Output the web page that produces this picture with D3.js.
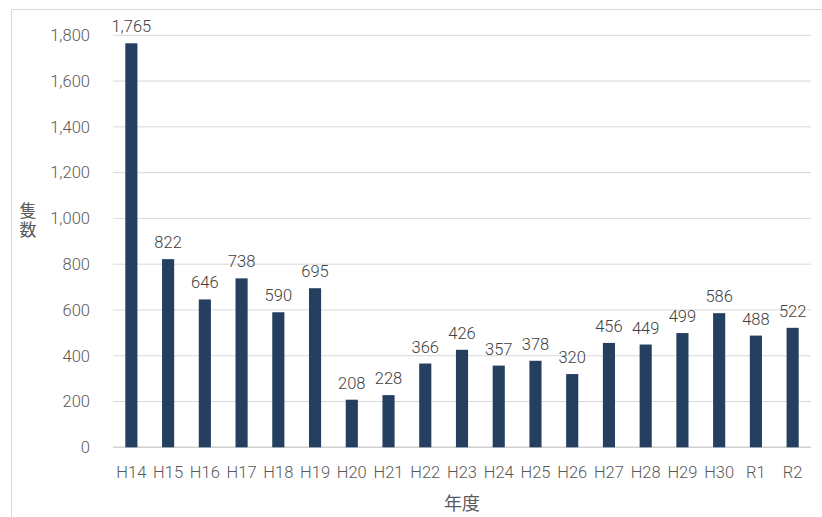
<!DOCTYPE html>
<html>
<head>
<meta charset="utf-8">
<script src="https://cdn.jsdelivr.net/npm/d3@7"></script>
<style>
  body { margin: 0; background: #fff; }
  text { font-family: Roboto, "Noto Sans CJK JP", sans-serif; }
</style>
</head>
<body>
<div id="wrapper"></div>
<script>
// data
const years = ['H14', 'H15', 'H16', 'H17', 'H18', 'H19', 'H20', 'H21', 'H22', 'H23',
  'H24', 'H25', 'H26', 'H27', 'H28', 'H29', 'H30', 'R1', 'R2'];
const ships = [1765, 822, 646, 738, 590, 695, 208, 228, 366, 426,
  357, 378, 320, 456, 449, 499, 586, 488, 522];
const yTicks = [0, 200, 400, 600, 800, 1000, 1200, 1400, 1600, 1800];

const width = 822;
const height = 517;
const margin = {top: 35.3, right: 11, bottom: 69.7, left: 113};

const svg = d3.select('#wrapper')
  .append('svg')
  .attr('width', width)
  .attr('height', height);

// chart border
svg.append('rect')
  .attr('x', 11.5)
  .attr('y', 9.5)
  .attr('width', width)
  .attr('height', height)
  .attr('fill', 'none')
  .attr('stroke', '#d9d9d9');

const x = d3.scaleBand()
  .domain(years)
  .range([margin.left, width - margin.right])
  .paddingInner(0.67)
  .paddingOuter(0.335);

const y = d3.scaleLinear()
  .domain([0, 1800])
  .range([height - margin.bottom, margin.top]);

// gridlines
svg.append('g')
  .selectAll('line')
  .data(yTicks)
  .join('line')
  .attr('x1', margin.left)
  .attr('x2', width - margin.right)
  .attr('y1', d => y(d))
  .attr('y2', d => y(d))
  .attr('stroke', d => d === 0 ? '#d0d0d0' : '#d9d9d9')
  .attr('stroke-width', d => d === 0 ? 1.5 : 1);

// y tick labels
svg.append('g')
  .selectAll('text')
  .data(yTicks)
  .join('text')
  .attr('x', 90)
  .attr('y', d => y(d))
  .attr('dy', '0.35em')
  .attr('text-anchor', 'end')
  .attr('font-size', 16.5)
  .attr('font-weight', 300)
  .attr('fill', '#595959')
  .text(d => d3.format(',')(d));

// bars
svg.append('g')
  .selectAll('rect')
  .data(ships)
  .join('rect')
  .attr('x', (d, i) => x(years[i]))
  .attr('width', x.bandwidth())
  .attr('y', d => y(d))
  .attr('height', d => y(0) - y(d))
  .attr('fill', '#243f60');

// value labels
svg.append('g')
  .selectAll('text')
  .data(ships)
  .join('text')
  .attr('x', (d, i) => x(years[i]) + x.bandwidth() / 2)
  .attr('y', d => y(d) - 11)
  .attr('text-anchor', 'middle')
  .attr('font-size', 16.5)
  .attr('font-weight', 300)
  .attr('fill', '#404040')
  .text(d => d3.format(',')(d));

// x tick labels
svg.append('g')
  .selectAll('text')
  .data(years)
  .join('text')
  .attr('x', d => x(d) + x.bandwidth() / 2)
  .attr('y', 472)
  .attr('dy', '0.35em')
  .attr('text-anchor', 'middle')
  .attr('font-size', 16.5)
  .attr('font-weight', 300)
  .attr('fill', '#595959')
  .text(d => d);

// axis titles
svg.append('text')
  .attr('x', 462)
  .attr('y', 504)
  .attr('dy', '0.35em')
  .attr('text-anchor', 'middle')
  .attr('font-size', 18)
  .attr('fill', '#595959')
  .text('年度');

const yTitle = svg.append('text')
  .attr('text-anchor', 'middle')
  .attr('font-size', 17)
  .attr('fill', '#595959');
['隻', '数'].forEach((c, i) => {
  yTitle.append('tspan')
    .attr('x', 28)
    .attr('y', 217 + i * 19)
    .text(c);
});
</script>
</body>
</html>
